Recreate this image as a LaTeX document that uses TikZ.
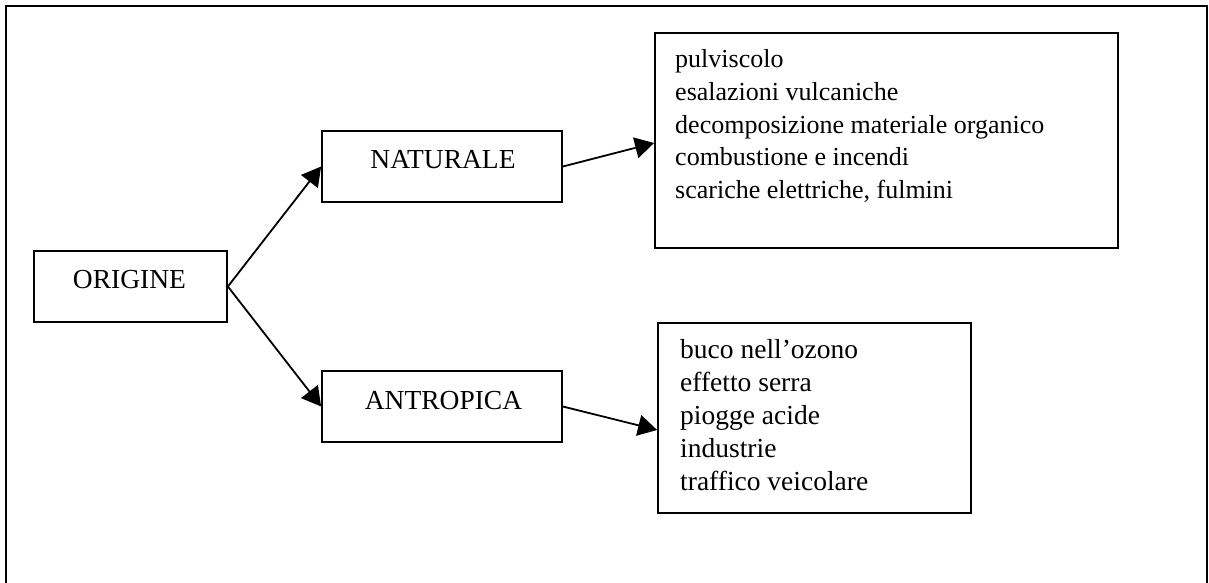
\documentclass[tikz,border=0pt]{standalone}
\usepackage{fontspec}
\setmainfont{Liberation Serif}
\usetikzlibrary{arrows.meta}
\begin{document}
\begin{tikzpicture}[x=1pt,y=-1pt,
  box/.style={draw,line width=1.8pt,inner sep=0pt},
  lbl/.style={font=\fontsize{27.5}{33}\selectfont,inner sep=0pt},
  lbls/.style={font=\fontsize{26}{32.5}\selectfont,inner sep=0pt},
  conn/.style={line width=1.8pt,-{Triangle[length=19pt,width=21pt]}},
  frame/.style={line width=2.2pt}]
\useasboundingbox (0,0) rectangle (1209,583);
\coordinate (fbl) at (6,583);
\coordinate (ftl) at (6,6);
\coordinate (ftr) at (1207,6);
\coordinate (fbr) at (1207,583);
\draw[frame] (fbl) -- (ftl) -- (ftr) -- (fbr);
% boxes
\node[box,minimum width=193pt,minimum height=71pt] (orig) at (130.5,286.5) {};
\node[box,minimum width=240pt,minimum height=71pt] (nat) at (442,166.5) {};
\node[box,minimum width=240pt,minimum height=71pt] (ant) at (442,406.5) {};
\node[box,minimum width=463pt,minimum height=215pt] (nlist) at (886.5,140.5) {};
\node[box,minimum width=313pt,minimum height=190pt] (alist) at (814.5,418) {};
% labels
\node[lbl,anchor=base] (origt) at (129.5,288) {ORIGINE};
\node[lbl,anchor=base] (natt) at (443,168) {NATURALE};
\node[lbl,anchor=base] (antt) at (443.5,409) {ANTROPICA};
\foreach \t [count=\i from 0] in {pulviscolo,esalazioni vulcaniche,decomposizione materiale organico,combustione e incendi,{scariche elettriche, fulmini}}
  \node[lbls,anchor=base west] (nl\i) at (675,68+32.5*\i) {\t};
\foreach \t [count=\i from 0] in {buco nell’ozono,effetto serra,piogge acide,industrie,traffico veicolare}
  \node[lbl,anchor=base west] (al\i) at (680,358+33*\i) {\t};
% connectors
\draw[conn] (orig.east) -- (nat.west);
\draw[conn] (orig.east) -- (ant.west);
\draw[conn] (nat.east) -- ([yshift=-2.5pt]nlist.west);
\draw[conn] (ant.east) -- ([yshift=-12pt]alist.west);
\end{tikzpicture}
\end{document}
